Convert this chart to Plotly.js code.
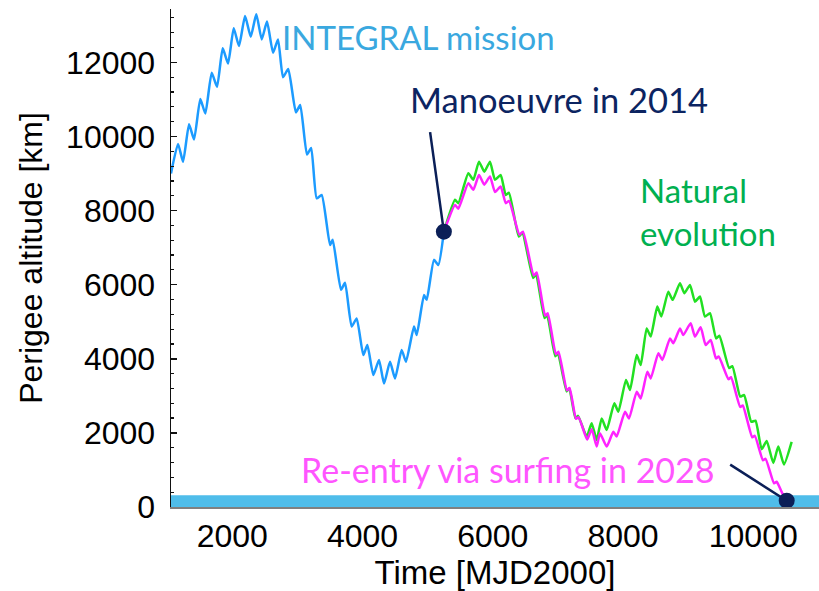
<!DOCTYPE html>
<html>
<head>
<meta charset="utf-8">
<script src="https://cdn.plot.ly/plotly-3.0.1.min.js"></script>
<style>html,body{margin:0;padding:0;background:#fff;}#chart{width:819px;height:591px;}</style>
</head>
<body>
<div id="chart"></div>
<script>
// INTEGRAL mission (blue)
const missionX = [1060,1168,1245,1337,1414,1510,1587,1685,1767,1854,1936,2023,2104,2197,2284,2370,2453,2534,2627,2703,2780,2860,2978,3044,3148,3212,3297,3374,3502,3543,3670,3732,3834,3911,4013,4075,4167,4254,4331,4423,4500,4602,4668,4791,4833,4945,4986,5098,5165,5250];
const missionY = [9000,9800,9320,10330,9920,11010,10620,11720,11340,12380,11970,12920,12440,13250,12690,13300,12620,13100,12260,12620,11600,11820,10650,10850,9510,9690,8330,8420,7070,7210,5860,6050,4870,5090,4100,4370,3560,3970,3330,3920,3470,4240,3920,4870,4640,5720,5590,6670,6530,7430];

// Natural evolution (green)
const naturalX = [5250,5421,5471,5625,5702,5789,5871,5958,6035,6122,6200,6250,6400,6455,6620,6665,6795,6835,6960,7000,7135,7175,7270,7310,7443,7519,7596,7673,7750,7867,7929,8046,8108,8211,8272,8364,8426,8527,8589,8696,8763,8875,8942,9029,9106,9182,9259,9336,9430,9480,9630,9680,9800,9860,9970,10035,10130,10207,10308,10385,10472,10590];
const naturalY = [7430,8290,8200,9010,8830,9320,9050,9320,8830,8960,8420,8480,7300,7400,6180,6280,5100,5180,4070,4150,3120,3200,2400,2460,1900,2260,1810,2390,2080,2800,2570,3430,3160,4100,3830,4820,4600,5410,5140,5810,5590,6040,5770,5990,5540,5680,5140,5230,4550,4620,3750,3800,2980,3020,2300,2330,1560,1780,1190,1630,1150,1760];

// Re-entry via surfing (magenta)
const surfX = [5250,5421,5471,5625,5702,5789,5871,5958,6035,6122,6200,6250,6410,6465,6630,6675,6805,6845,6970,7010,7140,7180,7280,7320,7450,7520,7596,7647,7750,7852,7903,8031,8093,8211,8272,8374,8426,8543,8604,8722,8773,8875,8926,9039,9106,9193,9270,9347,9428,9470,9620,9660,9800,9840,9985,10025,10150,10190,10320,10360,10460,10530];
const surfY = [7430,8150,8050,8740,8560,8960,8700,8920,8500,8650,8200,8260,7350,7430,6250,6330,5160,5230,4120,4190,3150,3210,2380,2420,1820,2100,1630,1990,1630,2030,1900,2570,2390,3110,2930,3650,3470,4150,3970,4550,4420,4820,4640,4960,4600,4850,4370,4510,4010,4060,3450,3500,2700,2740,1880,1920,1260,1300,640,680,330,250];

// Event markers
const eventX = [5250, 10514];
const eventY = [7430, 170];

// Atmosphere band
const bandTop = 320;

const xTicks = [2000,4000,6000,8000,10000];
const yTicks = [0,2000,4000,6000,8000,10000,12000];

const lineW = 2.5;
const traces = [
  {x: missionX, y: missionY, mode:'lines', line:{color:'#1c9bff', width:lineW, shape:'spline', smoothing:0.5}, hoverinfo:'skip'},
  {x: naturalX, y: naturalY, mode:'lines', line:{color:'#22e022', width:lineW, shape:'spline', smoothing:0.5}, hoverinfo:'skip'},
  {x: surfX, y: surfY, mode:'lines', line:{color:'#ff22ff', width:lineW, shape:'spline', smoothing:0.5}, hoverinfo:'skip'},
  {x: eventX, y: eventY, mode:'markers', marker:{color:'#0b1f57', size:16}, hoverinfo:'skip'}
];

const txt = 'Lato';
const layout = {
  width: 819, height: 591,
  margin: {l:171, r:0, t:9, b:84},
  paper_bgcolor:'#fff', plot_bgcolor:'#fff',
  showlegend:false,
  xaxis: {
    range:[1060, 11010], tickvals:xTicks, ticktext:xTicks.map(String),
    showgrid:false, zeroline:false, showline:true, linecolor:'#808080', linewidth:1.5,
    ticks:'', tickfont:{family:'Liberation Sans, Arial', size:32, color:'#000'},
    title:{text:'Time [MJD2000]', font:{family:'Liberation Sans, Arial', size:33, color:'#000'}, standoff:6}
  },
  yaxis: {
    range:[0, 13440], tickvals:yTicks, ticktext:yTicks.map(String),
    showgrid:false, zeroline:false, showline:true, linecolor:'#111', linewidth:1.5,
    ticks:'inside', ticklen:6, tickwidth:1.5, tickcolor:'#111',
    minor:{dtick:400, ticks:'inside', ticklen:3, tickwidth:1.2, tickcolor:'#111'},
    ticklabelstandoff:8,
    tickfont:{family:'Liberation Sans, Arial', size:32, color:'#000'},
    title:{text:'Perigee altitude [km]', font:{family:'Liberation Sans, Arial', size:32, color:'#000'}, standoff:14}
  },
  shapes: [
    {type:'rect', xref:'paper', yref:'y', x0:0, x1:1, y0:0, y1:bandTop, fillcolor:'#4fbdea', line:{width:0}, layer:'below'}
  ],
  annotations: [
    {x:2730, y:12686, xref:'x', yref:'y', text:'INTEGRAL mission', showarrow:false, xanchor:'left', yanchor:'middle', font:{family:txt, size:33, color:'#3aa8df'}},
    {x:4700, y:10985, xref:'x', yref:'y', text:'Manoeuvre in 2014', showarrow:false, xanchor:'left', yanchor:'middle', font:{family:txt, size:34.5, color:'#0c2461'}},
    {x:8230, y:7962, xref:'x', yref:'y', text:'Natural<br>evolution', align:'left', showarrow:false, xanchor:'left', yanchor:'middle', font:{family:txt, size:33, color:'#00b050'}},
    {x:3030, y:999, xref:'x', yref:'y', text:'Re-entry via surfing in 2028', showarrow:false, xanchor:'left', yanchor:'middle', font:{family:txt, size:34, color:'#ff55ff'}},
    {x:eventX[0], y:eventY[0], xref:'x', yref:'y', text:'', showarrow:true, arrowhead:0, arrowwidth:2.5, arrowcolor:'#0b1f57', ax:-14, ay:-101, standoff:0, startstandoff:0},
    {x:eventX[1], y:eventY[1], xref:'x', yref:'y', text:'', showarrow:true, arrowhead:0, arrowwidth:2.5, arrowcolor:'#0b1f57', ax:-58, ay:-37, standoff:0, startstandoff:0}
  ]
};

Plotly.newPlot('chart', traces, layout, {staticPlot:true, displayModeBar:false});
</script>
</body>
</html>
